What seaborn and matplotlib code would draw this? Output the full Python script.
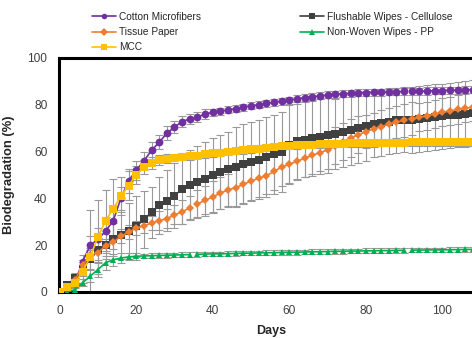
import numpy as np
import pandas as pd
import seaborn as sns
import matplotlib.pyplot as plt
from matplotlib.lines import Line2D

# sampling days (every 2 days); the line is broken after these days
days = list(range(0, 110, 2))
gap_after = [34, 90]

cotton = [0, 1.5, 4, 13, 20, 22.5, 26, 30.5, 40, 47.5, 52,
          56, 60.5, 64, 67.8, 70.5, 72.8, 74, 74.8, 76, 76.8, 77.3,
          77.8, 78.4, 79, 79.6, 80, 80.6, 81, 81.6, 82, 82.6, 83,
          83.5, 83.8, 84.2, 84.5, 84.7, 84.9, 85.1, 85.2, 85.3, 85.4, 85.5,
          85.6, 85.7, 85.7, 85.8, 85.9, 86, 86.1, 86.2, 86.3, 86.4, 86.5]
cotton_err = [0, 0.5, 1, 3, 4, 5, 6, 6, 5, 5, 4,
              4, 3.5, 3, 3, 2.5, 2.5, 2, 2, 2, 1.5, 1.5,
              1.5, 1.5, 1.5, 1.5, 1.5, 1.5, 1.5, 1.5, 1.5, 1.5, 1.5,
              1.5, 1.5, 1.5, 1.5, 1.5, 1.5, 1.5, 1.5, 1.5, 1.5, 1.5,
              1.5, 1.5, 1.5, 1.5, 1.5, 1.5, 1.5, 1.5, 1.5, 1.5, 1.5]

flushable = [0, 3, 6, 10, 14, 18, 20, 22.5, 24.3, 26, 28,
             31, 34, 37, 39, 41.2, 44, 45.8, 47.2, 48.3, 50, 51.3,
             52.4, 53.4, 54.6, 55.7, 56.6, 57.6, 58.8, 59.8, 63, 64.5, 65,
             65.6, 66.3, 67, 67.6, 68.4, 69.2, 70, 70.8, 71.6, 72.3, 72.8,
             73.3, 73.7, 73.6, 74, 74.4, 74.8, 75.1, 75.5, 75.8, 76.1, 76.5]
flushable_err = [0, 1, 2, 3, 4, 5, 6, 7, 10, 12, 13,
                 12, 11, 12, 13, 14, 15, 15, 15, 16, 16, 16,
                 16, 17, 17, 17, 17, 17, 17, 17, 17, 16, 16,
                 16, 16, 16, 15, 15, 15, 15, 15, 14, 14, 14,
                 14, 14, 14, 14, 14, 14, 14, 14, 14, 14, 14]

tissue = [0, 1, 5, 11.5, 15.8, 16.8, 19.8, 21.3, 23.8, 25.6, 27.2,
          28.4, 29.4, 30.5, 31.3, 33, 34.2, 36, 37.6, 39.2, 40.6, 42.3,
          43.6, 44.6, 46, 47.4, 48.6, 49.7, 51.5, 53.4, 54.6, 55.8, 57.2,
          58.4, 59.6, 60.7, 62.5, 64.2, 65.8, 67.2, 68.5, 69.7, 70.7, 71.7,
          72.6, 73.4, 74, 74.6, 75.3, 76, 76.8, 77.4, 78, 78.5, 79]
tissue_err = [0, 0.5, 1, 2, 3, 3, 3, 3, 3, 3, 3,
              3, 3, 4, 4, 4, 5, 5, 6, 6, 7, 7,
              7, 8, 8, 8, 8, 8, 8, 8, 8, 8, 8,
              8, 8, 8, 8, 8, 8, 8, 7, 7, 7, 7,
              7, 7, 7, 6, 6, 6, 6, 6, 6, 6, 6]

nonwoven = [0, 0, 1, 4, 6.8, 9.6, 12.5, 13.8, 14.5, 15, 15.3,
            15.4, 15.5, 15.6, 15.7, 15.8, 15.9, 16, 16.1, 16.2, 16.3, 16.3,
            16.4, 16.5, 16.6, 16.6, 16.7, 16.8, 16.8, 16.9, 17, 17, 17.1,
            17.2, 17.2, 17.3, 17.4, 17.4, 17.5, 17.5, 17.6, 17.6, 17.7, 17.7,
            17.8, 17.8, 17.9, 17.9, 18, 18, 18, 18.1, 18.1, 18.2, 18.2]
nonwoven_err = [0, 0, 0.5, 1.5, 2.5, 3, 3, 2.5, 2, 1.5, 1.5,
                1, 1, 1, 1, 1, 1, 1, 1, 1, 1, 1,
                1, 1, 1, 1, 1, 1, 1, 1, 1, 1, 1,
                1, 1, 1, 1, 1, 1, 1, 1, 1, 1, 1,
                1, 1, 1, 1, 1, 1, 1, 1, 1, 1, 1]

mcc = [0, 2, 4, 8.7, 15, 23.5, 30.5, 35.5, 41, 45.5, 50,
       53.5, 55, 56.4, 57, 57.4, 57.7, 58, 58.3, 58.8, 59.2, 59.6,
       60, 60.3, 60.6, 61, 61.3, 61.6, 61.9, 62.2, 62.5, 62.7, 62.9,
       63, 63.1, 63.2, 63.3, 63.4, 63.5, 63.5, 63.6, 63.6, 63.7, 63.7,
       63.8, 63.8, 64, 64, 64, 64, 64, 64, 64, 64, 64]
mcc_err = [0, 1, 2, 5, 20, 16, 13, 13, 8, 6, 4,
           3, 2.5, 2, 2, 1.5, 1.5, 1.5, 1.5, 1.5, 1.5, 1.5,
           1.5, 1.5, 1.5, 1.5, 1.5, 1.5, 1.5, 1.5, 1.5, 1.5, 1.5,
           1.5, 1.5, 1.5, 1.5, 1.5, 1.5, 1.5, 1.5, 1.5, 1.5, 1.5,
           1.5, 1.5, 1.5, 1.5, 1.5, 1.5, 1.5, 1.5, 1.5, 1.5, 1.5]

# order = drawing order (last on top)
series = {
    "Cotton Microfibers": (cotton, cotton_err),
    "Flushable Wipes - Cellulose": (flushable, flushable_err),
    "Tissue Paper": (tissue, tissue_err),
    "Non-Woven Wipes - PP": (nonwoven, nonwoven_err),
    "MCC": (mcc, mcc_err),
}
colors = {
    "Cotton Microfibers": "#7030A0",
    "Flushable Wipes - Cellulose": "#404040",
    "Tissue Paper": "#ED7D31",
    "Non-Woven Wipes - PP": "#00B050",
    "MCC": "#FFC000",
}
markers = {
    "Cotton Microfibers": "o",
    "Flushable Wipes - Cellulose": "s",
    "Tissue Paper": "D",
    "Non-Woven Wipes - PP": "^",
    "MCC": "s",
}
msize = {
    "Cotton Microfibers": 5.6,
    "Flushable Wipes - Cellulose": 5.5,
    "Tissue Paper": 4.3,
    "Non-Woven Wipes - PP": 5.0,
    "MCC": 5.6,
}
legend_order = ["Cotton Microfibers", "Tissue Paper", "MCC",
                "Flushable Wipes - Cellulose", "Non-Woven Wipes - PP"]

rows = []
for name, (vals, errs) in series.items():
    for d, v, e in zip(days, vals, errs):
        seg = sum(d > g for g in gap_after)
        rows.append({"series": name, "day": d, "value": v, "err": e, "seg": seg})
df = pd.DataFrame(rows)

sns.set_style("white")
plt.rcParams["font.family"] = ["Liberation Sans", "DejaVu Sans"]

fig = plt.figure(figsize=(4.72, 3.38), dpi=100)
ax = fig.add_axes([58.5 / 472, 46 / 338, 426 / 472, 234 / 338])

for name in series:
    sub = df[df["series"] == name]
    ax.errorbar(sub["day"], sub["value"], yerr=sub["err"], fmt="none",
                ecolor="#999999", elinewidth=0.8, capsize=2.6, capthick=0.8,
                zorder=1)

for i, name in enumerate(series):
    sub = df[df["series"] == name]
    sns.lineplot(data=sub, x="day", y="value", units="seg", estimator=None,
                 color=colors[name], marker=markers[name],
                 markersize=msize[name], markeredgewidth=0,
                 linewidth=1.2, ax=ax, legend=False, zorder=3 + i)

ax.set_xlim(-0.3, 111)
ax.set_ylim(0, 100)
ax.set_xticks([0, 20, 40, 60, 80, 100])
ax.set_yticks([0, 20, 40, 60, 80, 100])
ax.tick_params(axis="both", length=0, labelsize=8.6, labelcolor="#404040")
ax.tick_params(axis="x", pad=9)
ax.tick_params(axis="y", pad=8)
for side in ["left", "bottom", "top"]:
    ax.spines[side].set_linewidth(2.2)
    ax.spines[side].set_color("black")
ax.spines["right"].set_visible(False)
ax.set_xlabel("Days", fontsize=9, fontweight="bold", labelpad=6)
ax.set_ylabel("Biodegradation (%)", fontsize=9.4, fontweight="bold", labelpad=9)

handles = [Line2D([], [], color=colors[n], marker=markers[n],
                  markersize=4, markeredgewidth=0, linewidth=1.2)
           for n in legend_order]
fig.legend(handles, legend_order, loc="upper left",
           bbox_to_anchor=(92 / 472, 1 - 12 / 338), ncol=2, frameon=False,
           fontsize=7.3, handlelength=2.4, handletextpad=0.3,
           columnspacing=9.7, labelspacing=0.5, borderpad=0, borderaxespad=0)

fig.savefig("out.png", dpi=100)
